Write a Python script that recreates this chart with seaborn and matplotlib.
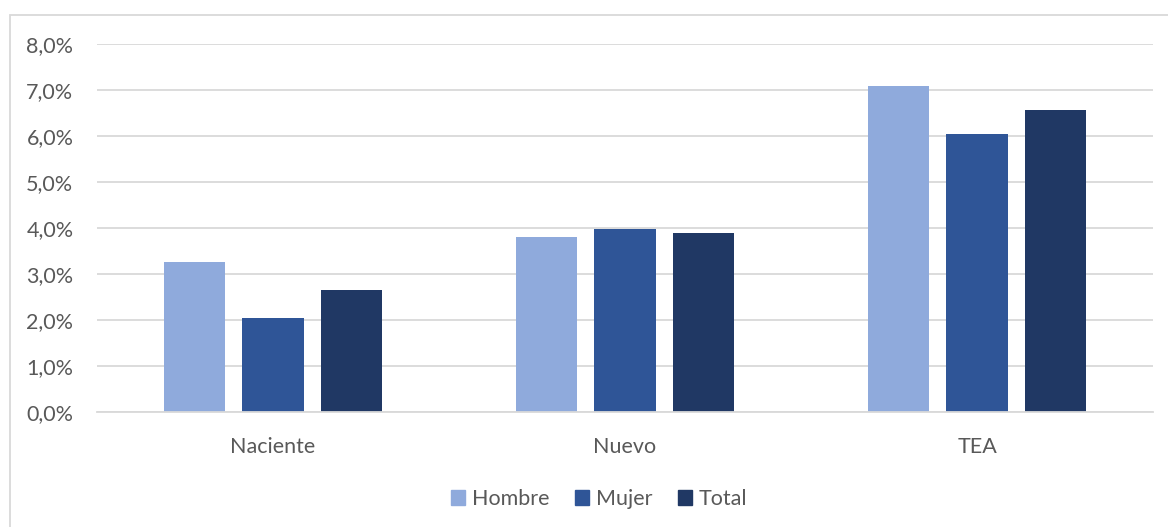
import matplotlib
matplotlib.use("Agg")
import matplotlib.pyplot as plt
import matplotlib.patches as mpatches
import seaborn as sns
import pandas as pd

categorias = ["Naciente", "Nuevo", "TEA"]
series = ["Hombre", "Mujer", "Total"]
hombre = [3.27, 3.80, 7.09]
mujer = [2.05, 3.98, 6.04]
total = [2.66, 3.90, 6.56]
yticks = [0, 1, 2, 3, 4, 5, 6, 7, 8]
colores = ["#8FAADC", "#2F5597", "#203864"]

df = pd.DataFrame({
    "categoria": categorias * 3,
    "serie": [s for s in series for _ in categorias],
    "valor": hombre + mujer + total,
})

sns.set_style("white")
plt.rcParams["font.family"] = ["Lato", "DejaVu Sans"]

fig = plt.figure(figsize=(11.68, 5.27), dpi=100)
ax = fig.add_axes([97 / 1168, 115 / 527, 1056 / 1168, 368 / 527])

sns.barplot(data=df, x="categoria", y="valor", hue="serie",
            palette=colores, width=0.667, gap=0.22, ax=ax,
            order=categorias, hue_order=series, legend=False,
            saturation=1, edgecolor="none")

ax.set_ylim(0, 8)
ax.set_yticks(yticks)
ax.set_yticklabels([f"{v:.1f}%".replace(".", ",") for v in yticks])
ax.set_xlim(-0.5, 2.5)
ax.set_xlabel("")
ax.set_ylabel("")
ax.yaxis.grid(True, color="#D9D9D9", linewidth=1.3)
ax.set_axisbelow(True)
for s in ["top", "right", "left"]:
    ax.spines[s].set_visible(False)
ax.spines["bottom"].set_color("#D9D9D9")
ax.spines["bottom"].set_linewidth(1.3)
ax.tick_params(axis="both", length=0, labelsize=15.5, labelcolor="#595959")
ax.tick_params(axis="y", pad=17)
ax.tick_params(axis="x", pad=18)

handles = [mpatches.Patch(color=c, label=s) for c, s in zip(colores, series)]
fig.legend(handles=handles, loc="center", bbox_to_anchor=(0.513, 28 / 527),
           ncol=3, frameon=False, fontsize=15.5, handlelength=0.65,
           handleheight=0.65, handletextpad=0.3, columnspacing=1.2,
           labelcolor="#595959")

fig.patches.append(mpatches.Rectangle((10 / 1168, -0.01), 1.1, 1 - 15 / 527 + 0.01,
                                      transform=fig.transFigure, fill=False,
                                      edgecolor="#D9D9D9", linewidth=1.3))

fig.savefig("out.png", dpi=100)
